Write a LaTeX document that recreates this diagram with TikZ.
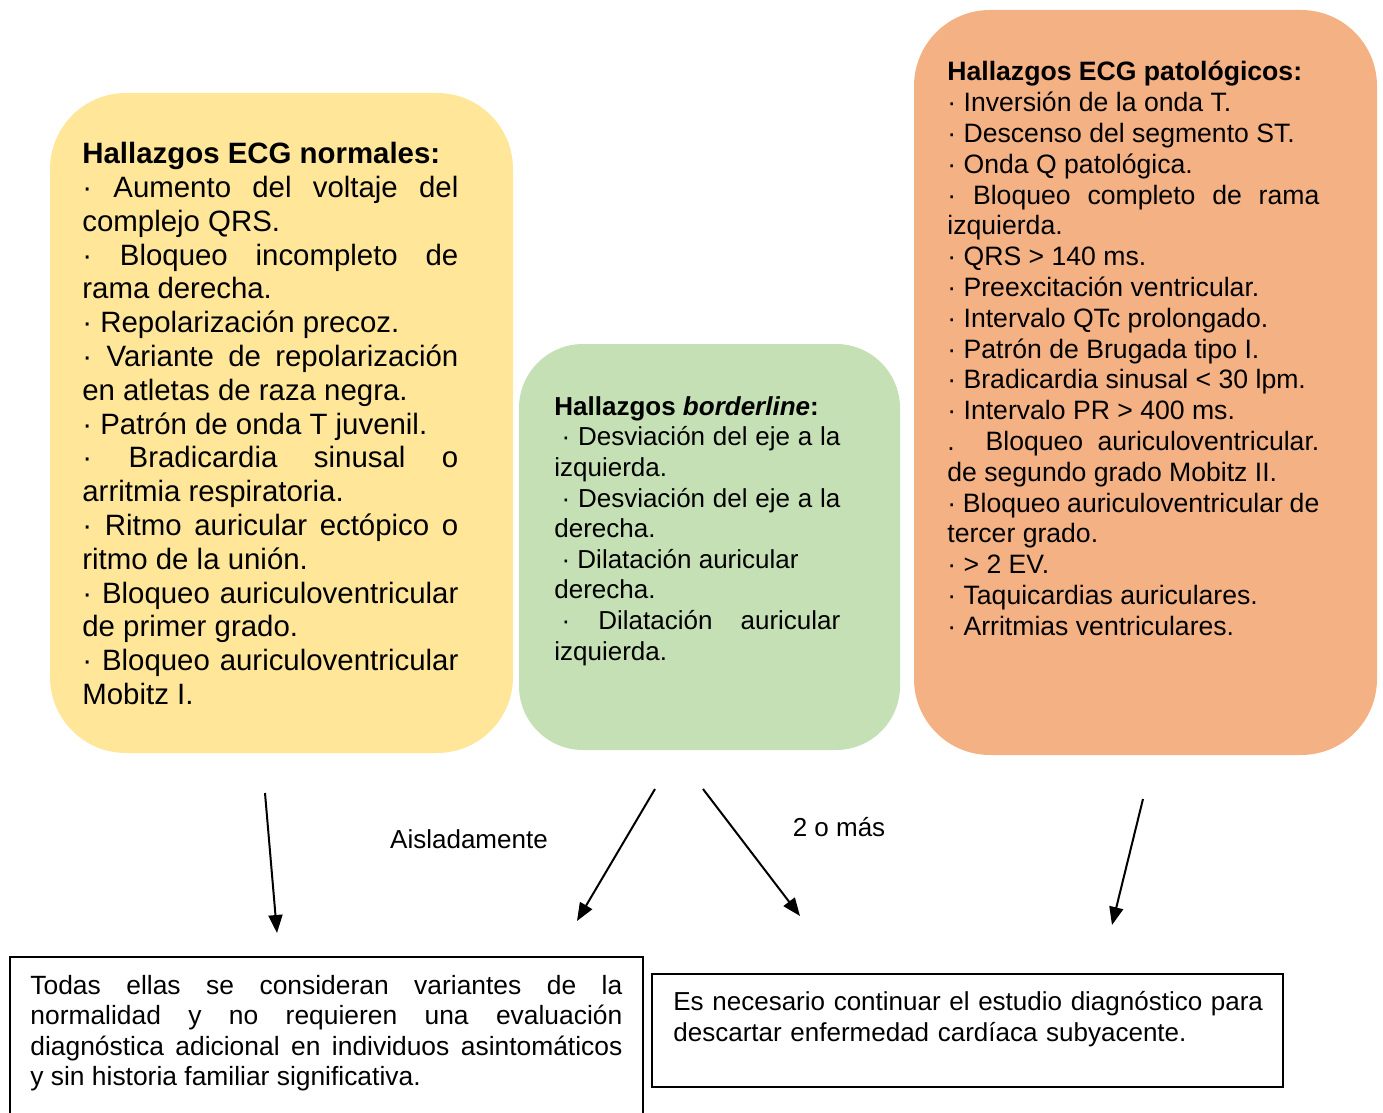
\documentclass[tikz,border=0pt]{standalone}
\usepackage{fontspec}
\setmainfont{Liberation Sans}
\usetikzlibrary{arrows.meta}

\definecolor{normalfill}{HTML}{FFE699}
\definecolor{borderfill}{HTML}{C5E0B4}
\definecolor{patofill}{HTML}{F4B183}
\setlength{\parindent}{0pt}
\tolerance=10000

\begin{document}
\begin{tikzpicture}[x=0.5pt,y=-0.5pt]
        \tikzset{box/.style = {shape=rectangle,inner sep=0pt},
                 txt/.style = {anchor=north west,inner sep=0pt,align=justify},
                 arr/.style = {-{Triangle[length=9pt,width=7pt]},line width=1pt},
                 big/.style = {font=\fontsize{14.7}{16.9}\selectfont},
                 small/.style = {font=\fontsize{13}{15.3}\selectfont},
                 foot/.style = {font=\fontsize{13.2}{15.15}\selectfont}};
        \useasboundingbox (0,0) rectangle (1383,1113);
        \clip (0,0) rectangle (1383,1113);
        \node[box,fill=normalfill,rounded corners=38pt,minimum width=231.5pt,minimum height=330pt] (normal) at (281.5,423) {};
        \node[box,fill=borderfill,rounded corners=32pt,minimum width=190.5pt,minimum height=203pt] (border) at (709.5,547) {};
        \node[box,fill=patofill,rounded corners=38pt,minimum width=231.5pt,minimum height=372.5pt] (pato) at (1145.5,382.5) {};
        \node[txt,big,text width=188pt] (normaltxt) at (82,142) {\textbf{Hallazgos ECG normales:}\par
            · Aumento del voltaje del\linebreak complejo QRS.\par
            · Bloqueo incompleto de\linebreak rama derecha.\par
            · Repolarización precoz.\par
            · Variante de repolarización\linebreak en atletas de raza negra.\par
            · Patrón de onda T juvenil.\par
            · Bradicardia sinusal o\linebreak arritmia respiratoria.\par
            · Ritmo auricular ectópico o\linebreak ritmo de la unión.\par
            · Bloqueo auriculoventricular\linebreak de primer grado.\par
            · Bloqueo auriculoventricular\linebreak Mobitz I.};
        \node[txt,small,text width=143pt] (bordertxt) at (554,396) {\textbf{Hallazgos \textit{borderline}:}\par
            \hspace*{3.6pt}· Desviación del eje a la\linebreak izquierda.\par
            \hspace*{3.6pt}· Desviación del eje a la\linebreak derecha.\par
            \hspace*{3.6pt}· Dilatación auricular\newline derecha.\par
            \hspace*{3.6pt}· Dilatación auricular\linebreak izquierda.};
        \node[txt,font=\fontsize{13.3}{15.4}\selectfont,text width=186pt] (patotxt) at (947,61) {\textbf{Hallazgos ECG patológicos:}\par
            · Inversión de la onda T.\par
            · Descenso del segmento ST.\par
            · Onda Q patológica.\par
            · Bloqueo completo de rama\linebreak izquierda.\par
            · QRS > 140 ms.\par
            · Preexcitación ventricular.\par
            · Intervalo QTc prolongado.\par
            · Patrón de Brugada tipo I.\par
            · Bradicardia sinusal < 30 lpm.\par
            · Intervalo PR > 400 ms.\par
            . Bloqueo auriculoventricular.\linebreak de segundo grado Mobitz II.\par
            · Bloqueo auriculoventricular de\linebreak tercer grado.\par
            · > 2 EV.\par
            · Taquicardias auriculares.\par
            · Arritmias ventriculares.};
        \node[box,draw,line width=0.75pt,minimum width=316.5pt,minimum height=86.5pt] (variant) at (326.5,1043.5) {};
        \node[txt,foot,text width=296pt] (varianttxt) at (30,975) {Todas ellas se consideran variantes de la\linebreak
            normalidad y no requieren una evaluación\linebreak
            diagnóstica adicional en individuos asintomáticos\linebreak
            y sin historia familiar significativa.};
        \node[box,draw,line width=0.75pt,minimum width=315.5pt,minimum height=56.5pt] (study) at (967.5,1030.5) {};
        \node[txt,small,text width=300pt,align=left] (studytxt) at (673,991) {Es necesario continuar el estudio diagnóstico para\newline
            descartar enfermedad cardíaca subyacente.};
        \node[small] (alone) at (469,839) {Aisladamente};
        \node[small] (twomore) at (839,827) {2 o más};
        \coordinate (n1) at (265,793);
        \coordinate (n2) at (277,933);
        \coordinate (b1) at (655,789);
        \coordinate (b2) at (577,921);
        \coordinate (b3) at (703,789);
        \coordinate (b4) at (800,916);
        \coordinate (p1) at (1143,799);
        \coordinate (p2) at (1112,925);
        \draw[arr] (n1) -- (n2);
        \draw[arr] (b1) -- (b2);
        \draw[arr] (b3) -- (b4);
        \draw[arr] (p1) -- (p2);
\end{tikzpicture}
\end{document}
